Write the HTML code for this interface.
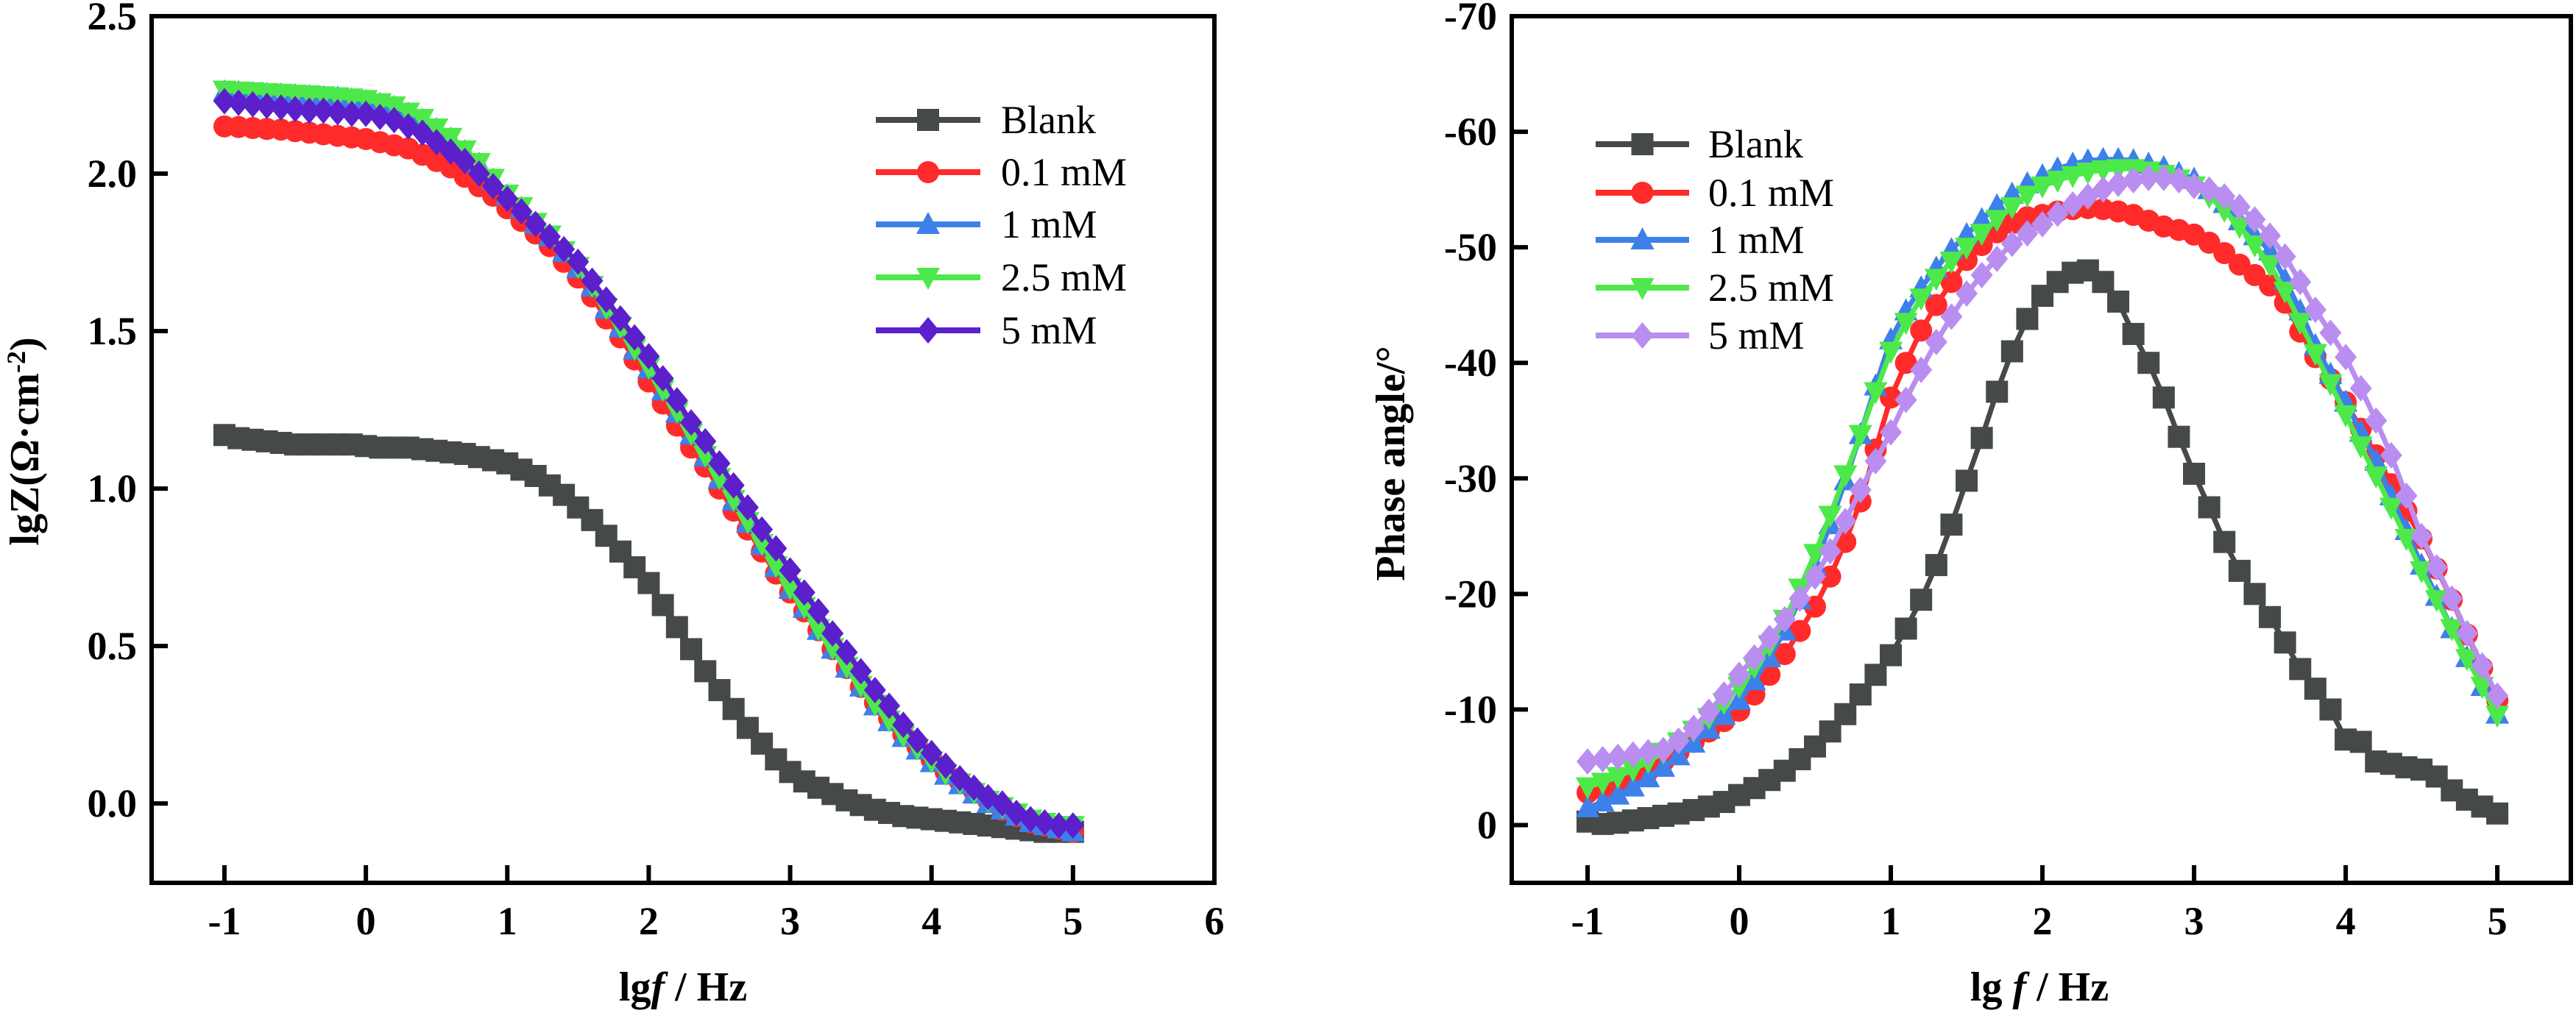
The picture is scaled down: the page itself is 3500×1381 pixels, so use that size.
<!DOCTYPE html>
<html><head><meta charset="utf-8"><style>
html,body{margin:0;padding:0;background:#fff;}
svg{display:block;font-family:"Liberation Serif",serif;}
</style></head><body>
<svg id="fig" width="3500" height="1381" viewBox="0 0 3500 1381"></svg>
<script>
const freqLog=[];for(let i=0;i<=60;i++)freqLog.push(-1+i*0.1);
const seriesNames=["Blank","0.1 mM","1  mM","2.5 mM","5 mM"];
const bodeLgZBlank=[1.17,1.16,1.155,1.15,1.145,1.14,1.14,1.14,1.14,1.14,1.135,1.13,1.13,1.13,1.125,1.12,1.115,1.11,1.10,1.09,1.08,1.06,1.04,1.01,0.98,0.94,0.90,0.85,0.80,0.75,0.70,0.63,0.56,0.49,0.42,0.36,0.30,0.24,0.19,0.14,0.10,0.07,0.05,0.03,0.01,-0.005,-0.02,-0.03,-0.04,-0.045,-0.05,-0.055,-0.06,-0.065,-0.07,-0.075,-0.08,-0.085,-0.09,-0.09,-0.09];
const bodeLgZ01=[2.15,2.148,2.145,2.142,2.14,2.135,2.13,2.125,2.12,2.115,2.11,2.10,2.09,2.08,2.06,2.04,2.02,1.99,1.96,1.93,1.89,1.85,1.81,1.77,1.72,1.67,1.61,1.54,1.48,1.41,1.34,1.27,1.20,1.13,1.07,1.00,0.93,0.87,0.80,0.73,0.67,0.61,0.55,0.49,0.43,0.37,0.32,0.27,0.22,0.18,0.14,0.10,0.07,0.04,0.01,-0.02,-0.04,-0.06,-0.07,-0.08,-0.09];
const bodeLgZ1=[2.26,2.258,2.255,2.252,2.25,2.248,2.245,2.242,2.24,2.235,2.23,2.22,2.21,2.19,2.17,2.14,2.11,2.07,2.03,1.98,1.93,1.89,1.84,1.80,1.75,1.70,1.64,1.57,1.51,1.44,1.38,1.31,1.24,1.17,1.10,1.03,0.96,0.89,0.82,0.75,0.68,0.62,0.55,0.49,0.43,0.37,0.31,0.26,0.21,0.17,0.13,0.09,0.06,0.03,0.0,-0.02,-0.04,-0.06,-0.07,-0.08,-0.09];
const bodeLgZ25=[2.265,2.262,2.26,2.257,2.255,2.252,2.25,2.247,2.244,2.24,2.235,2.225,2.215,2.195,2.175,2.145,2.115,2.075,2.035,1.985,1.935,1.895,1.845,1.805,1.755,1.705,1.645,1.575,1.515,1.445,1.385,1.315,1.245,1.175,1.105,1.035,0.965,0.895,0.825,0.755,0.685,0.625,0.555,0.495,0.435,0.375,0.315,0.265,0.215,0.175,0.135,0.095,0.065,0.035,0.01,-0.01,-0.03,-0.05,-0.06,-0.07,-0.07];
const bodeLgZ5=[2.23,2.225,2.22,2.215,2.21,2.205,2.20,2.20,2.195,2.19,2.19,2.18,2.17,2.15,2.13,2.10,2.07,2.04,2.00,1.96,1.92,1.88,1.84,1.80,1.76,1.72,1.66,1.60,1.54,1.48,1.42,1.35,1.28,1.21,1.15,1.08,1.01,0.94,0.87,0.81,0.74,0.67,0.61,0.54,0.48,0.42,0.36,0.31,0.25,0.20,0.16,0.12,0.08,0.05,0.02,0.0,-0.03,-0.05,-0.06,-0.07,-0.07];
const phaseBlank=[-0.3,-0.1,-0.2,-0.4,-0.6,-0.8,-1.0,-1.3,-1.6,-2.0,-2.6,-3.2,-3.9,-4.7,-5.7,-6.8,-8.1,-9.6,-11.3,-13.0,-14.7,-17.0,-19.5,-22.5,-26.0,-29.8,-33.5,-37.5,-41.0,-43.8,-45.8,-47.0,-47.8,-48.0,-47.0,-45.3,-42.5,-40.0,-37.0,-33.6,-30.4,-27.5,-24.5,-22.0,-20.0,-18.0,-15.8,-13.5,-11.8,-10.0,-7.4,-7.2,-5.5,-5.3,-5.0,-4.8,-4.2,-3.0,-2.2,-1.6,-1.0];
const phase01=[-2.8,-3.1,-3.5,-4.0,-4.7,-5.5,-6.3,-7.2,-8.1,-9.0,-9.9,-11.3,-13.0,-14.8,-16.8,-18.9,-21.5,-24.5,-28.0,-32.5,-37,-40,-42.8,-45,-47,-48.9,-50.2,-51.3,-52.1,-52.6,-52.8,-53.1,-53.3,-53.4,-53.3,-53.1,-52.8,-52.3,-51.8,-51.5,-51.1,-50.4,-49.5,-48.5,-47.6,-46.7,-45.2,-42.7,-40.5,-38.6,-36.6,-34.3,-32,-29.5,-27.2,-24.8,-22.2,-19.5,-16.5,-13.6,-10.8];
const phase1=[-1.5,-2.0,-2.6,-3.3,-4.1,-5.0,-6.0,-7.1,-8.3,-9.5,-10.8,-12.5,-14.5,-16.8,-19.5,-22.5,-26,-29.8,-33.8,-38,-42,-44.5,-46.5,-48.2,-49.8,-51.1,-52.4,-53.6,-54.6,-55.5,-56.2,-56.8,-57.2,-57.5,-57.6,-57.6,-57.5,-57.2,-56.9,-56.4,-55.9,-55.0,-53.8,-52.3,-51.0,-49.7,-47.2,-44.5,-41.5,-39,-36.6,-34,-31.5,-28.5,-25.5,-22.5,-19.8,-17,-14.5,-12,-9.6];
const phase25=[-3.3,-3.7,-4.2,-4.8,-5.5,-6.3,-7.2,-8.2,-9.3,-10.6,-12,-13.7,-15.6,-17.8,-20.5,-23.5,-26.8,-30.3,-33.8,-37.5,-41,-43.5,-45.6,-47.3,-48.8,-50,-51.2,-52.4,-53.5,-54.5,-55.3,-55.8,-56.2,-56.5,-56.7,-56.8,-56.8,-56.6,-56.3,-55.9,-55.3,-54.4,-53.2,-51.8,-50.2,-48.5,-46.2,-43.5,-40.8,-38.2,-35.5,-32.8,-30.2,-27.5,-24.8,-22,-19.5,-17,-14.4,-12,-9.5];
const phase5=[-5.5,-5.7,-5.9,-6.1,-6.3,-6.5,-7.3,-8.4,-9.8,-11.3,-13,-14.5,-16.2,-17.8,-19.6,-21.5,-23.7,-26.3,-29,-31.5,-34,-36.8,-39.4,-41.8,-44,-46,-47.6,-49,-50.3,-51.2,-52,-52.9,-53.7,-54.4,-55,-55.5,-55.8,-56,-56,-55.8,-55.3,-55,-54.4,-53.5,-52.4,-51,-49.2,-47,-44.6,-42.6,-40.5,-37.8,-35,-32,-28.5,-25,-22.3,-19.6,-16.6,-13.8,-11.2];
const leftXTicks=[-1,0,1,2,3,4,5,6];
const leftYTicks=[0,0.5,1,1.5,2,2.5];
const leftYTickLabels=["0.0","0.5","1.0","1.5","2.0","2.5"];
const rightXTicks=[-1,0,1,2,3,4,5];
const rightYTicks=[0,-10,-20,-30,-40,-50,-60,-70];

const NS="http://www.w3.org/2000/svg";
const svg=document.getElementById('fig');
function el(tag,attrs,parent){const e=document.createElementNS(NS,tag);for(const k in attrs)e.setAttribute(k,attrs[k]);(parent||svg).appendChild(e);return e;}
function marker(g,shape,cx,cy,color){
  const s=15;let m;
  if(shape==='sq')m=el('rect',{x:cx-s,y:cy-s,width:2*s,height:2*s,fill:color},g);
  else if(shape==='ci')m=el('circle',{cx:cx,cy:cy,r:s,fill:color},g);
  else if(shape==='up')m=el('polygon',{points:`${cx},${cy-s-2} ${cx-s-1},${cy+s-2} ${cx+s+1},${cy+s-2}`,fill:color},g);
  else if(shape==='dn')m=el('polygon',{points:`${cx},${cy+s+2} ${cx-s-1},${cy-s+2} ${cx+s+1},${cy-s+2}`,fill:color},g);
  else m=el('polygon',{points:`${cx},${cy-s-3} ${cx+s},${cy} ${cx},${cy+s+3} ${cx-s},${cy}`,fill:color},g);
  
  
}
function chart(cfg){
  const g=el('g',{});
  
  
  const X=v=>cfg.l+(v-cfg.x0)/(cfg.x1-cfg.x0)*(cfg.r-cfg.l);
  const Y=v=>cfg.b-(v-cfg.y0)/(cfg.y1-cfg.y0)*(cfg.b-cfg.t);
  cfg.series.forEach((s,i)=>{
    const sg=el('g',{},g);
    
    
    const pts=s.vals.map((v,j)=>X(freqLog[j]).toFixed(1)+','+Y(v).toFixed(1)).join(' ');
    el('polyline',{points:pts,fill:'none',stroke:s.color,'stroke-width':7},sg);
    s.vals.forEach((v,j)=>marker(sg,s.shape,X(freqLog[j]),Y(v),s.color));
  });
  const fr=el('rect',{x:cfg.l,y:cfg.t,width:cfg.r-cfg.l,height:cfg.b-cfg.t,fill:'none',stroke:'#000','stroke-width':6},g);
  
  cfg.xt.forEach(v=>{
    el('line',{x1:X(v),x2:X(v),y1:cfg.b,y2:cfg.b-24,stroke:'#000','stroke-width':6},g);
    const t=el('text',{x:X(v),y:1270,'text-anchor':'middle','font-size':54,'font-weight':'bold'},g);
    t.textContent=String(v);
    
  });
  cfg.yt.forEach((v,i)=>{
    el('line',{x1:cfg.l,x2:cfg.l+22,y1:Y(v),y2:Y(v),stroke:'#000','stroke-width':6},g);
    const t=el('text',{x:cfg.l-20,y:Y(v)+18,'text-anchor':'end','font-size':54,'font-weight':'bold'},g);
    t.textContent=cfg.ytl[i];
    
  });
  const xt=el('text',{x:cfg.xtx,y:1360,'text-anchor':'middle','font-size':56,'font-weight':'bold'},g);
  xt.innerHTML=cfg.xtitle;
  
  const yt=el('text',{x:0,y:0,transform:`translate(${cfg.ytx},${cfg.yty}) rotate(-90)`,'text-anchor':'middle','font-size':56,'font-weight':'bold'},g);
  yt.innerHTML=cfg.ytitle;
  
  const lg=el('g',{},g);
  
  cfg.series.forEach((s,i)=>{
    const ly=cfg.ly[i];
    const e=el('g',{},lg);
    
    el('line',{x1:cfg.lx0,x2:cfg.lx1,y1:ly,y2:ly,stroke:s.color,'stroke-width':8},e);
    marker(e,s.shape,(cfg.lx0+cfg.lx1)/2,ly,s.color);
    const t=el('text',{x:cfg.ltx,y:ly+18,'font-size':54},e);
    t.textContent=seriesNames[i];
  });
}
chart({name:'impedance-chart',l:206,r:1650,t:22,b:1200,x0:-1.515,x1:6,y0:-0.252,y1:2.5,
  xt:leftXTicks,yt:leftYTicks,ytl:leftYTickLabels,
  series:[{vals:bodeLgZBlank,color:'#454948',shape:'sq'},{vals:bodeLgZ01,color:'#ff2b2b',shape:'ci'},{vals:bodeLgZ1,color:'#3d80ea',shape:'up'},{vals:bodeLgZ25,color:'#4de94a',shape:'dn'},{vals:bodeLgZ5,color:'#5b1fcc',shape:'di'}],
  xtx:928,xtitle:'lg<tspan font-style="italic">f</tspan> / Hz',ytx:52,yty:600,ytitle:'lgZ(Ω·cm<tspan dy="-18" font-size="36">-2</tspan><tspan dy="18">)</tspan>',
  lx0:1190,lx1:1332,ltx:1360,ly:[163,234,305,377,449]});
chart({name:'phase-chart',l:2054,r:3493,t:22,b:1200,x0:-1.5,x1:5.485,y0:5,y1:-70,
  xt:rightXTicks,yt:rightYTicks,ytl:rightYTicks.map(String),
  series:[{vals:phaseBlank,color:'#454948',shape:'sq'},{vals:phase01,color:'#ff2b2b',shape:'ci'},{vals:phase1,color:'#3d80ea',shape:'up'},{vals:phase25,color:'#4de94a',shape:'dn'},{vals:phase5,color:'#b98ef0',shape:'di'}],
  xtx:2771,xtitle:'lg <tspan font-style="italic">f</tspan> / Hz',ytx:1908,yty:630,ytitle:'Phase angle/°',
  lx0:2168,lx1:2295,ltx:2321,ly:[196,262,326,391,456]});
</script>
</body></html>
